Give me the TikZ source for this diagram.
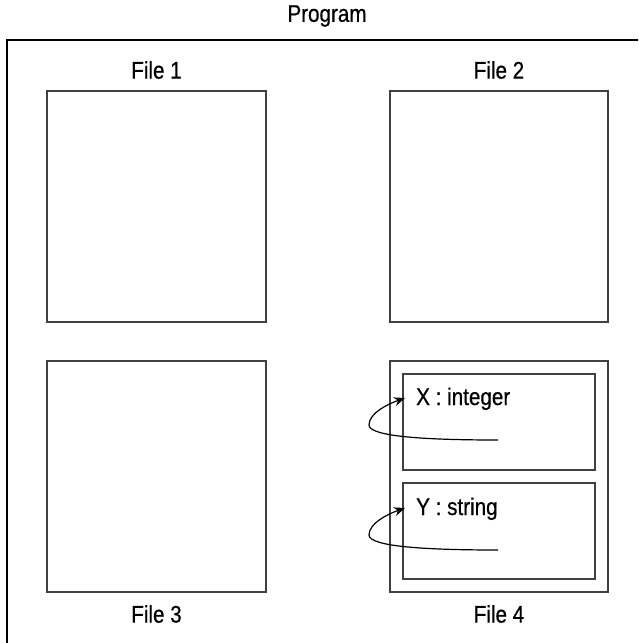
\documentclass[tikz,border=0pt]{standalone}
\usepackage{fontspec}
\setmainfont[FakeStretch=0.86,FakeBold=0.6]{Liberation Sans}
\usetikzlibrary{arrows.meta}
\tikzset{
  filebox/.style={draw=black!75, line width=1.3pt, minimum width=#1, inner sep=0pt, outer sep=0pt},
  lbl/.style={font=\fontsize{24}{28}\selectfont, inner sep=0pt},
  frameline/.style={draw=black, line width=2pt},
  refarrow/.style={draw=black, line width=1.2pt, -{Stealth[length=11pt,width=9pt]}}
}
\begin{document}
\begin{tikzpicture}[x=1pt,y=-1pt]
\useasboundingbox (0,0) rectangle (638,643);
\clip (0,0) rectangle (638,643);
% outer program frame (extends beyond the picture)
\draw[frameline] (7,660) -- (7,40) -- (660,40);
\node[lbl] (prog) at (327,16) {Program};
% file boxes
\node[filebox=219pt, minimum height=231pt] (f1) at (156.5,206.5) {};
\node[filebox=218pt, minimum height=231pt] (f2) at (499,206.5) {};
\node[filebox=219pt, minimum height=231pt] (f3) at (156.5,476.5) {};
\node[filebox=218pt, minimum height=231pt] (f4) at (499,476.5) {};
\node[filebox=192pt, minimum height=96pt] (in1) at (499,422) {};
\node[filebox=192pt, minimum height=96pt] (in2) at (499,531) {};
% labels
\node[lbl] (l1) at (156.5,70) {File 1};
\node[lbl] (l2) at (499,70) {File 2};
\node[lbl] (l3) at (156.5,614) {File 3};
\node[lbl] (l4) at (499,614) {File 4};
\node[lbl, anchor=base west] (vx) at (416,405) {X : integer};
\node[lbl, anchor=base west] (vy) at (416,515) {Y : string};
% arrows
\coordinate (sx) at (498,440);
\coordinate (tx) at (405,398);
\coordinate (sy) at (498,550);
\coordinate (ty) at (405,508);
\draw[refarrow] (sx) .. controls (430,440) and (369,437) .. (369,425) .. controls (369,413) and (388,404) .. (tx);
\draw[refarrow] (sy) .. controls (430,550) and (369,547) .. (369,535) .. controls (369,523) and (388,514) .. (ty);
\end{tikzpicture}
\end{document}
